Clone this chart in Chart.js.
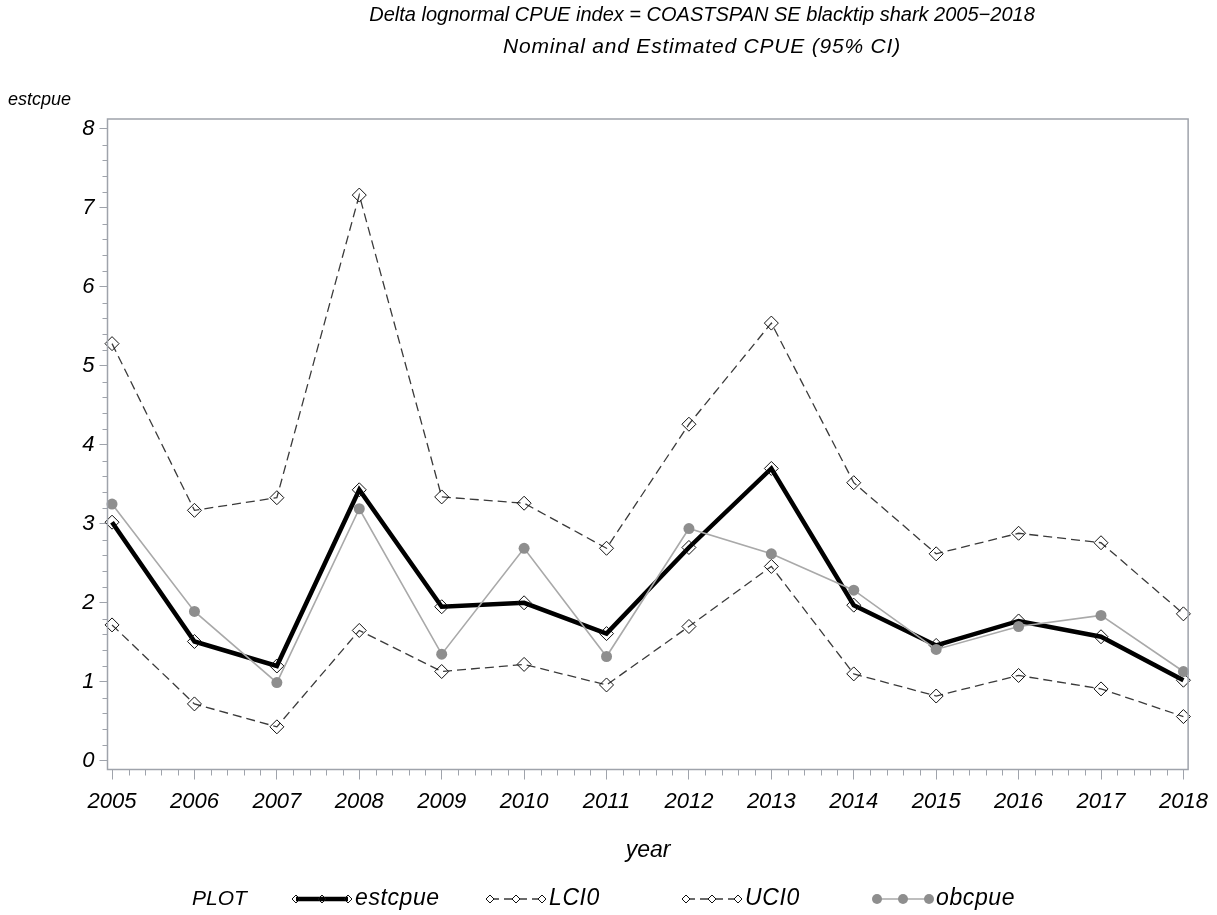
<!DOCTYPE html>
<html>
<head>
<meta charset="utf-8">
<title>Delta lognormal CPUE index</title>
<script src="https://cdn.jsdelivr.net/npm/chart.js@4/dist/chart.umd.min.js"></script>
<style>
  html, body { margin: 0; padding: 0; background: #ffffff; }
  #wrap { width: 1217px; height: 915px; position: relative; }
</style>
</head>
<body>
<div id="wrap"><canvas id="c" width="1217" height="915"></canvas></div>
<script>
// ---- data ----
const years   = [2005, 2006, 2007, 2008, 2009, 2010, 2011, 2012, 2013, 2014, 2015, 2016, 2017, 2018];
const estcpue = [3.02, 1.51, 1.20, 3.43, 1.95, 2.00, 1.61, 2.70, 3.70, 1.97, 1.46, 1.77, 1.57, 1.02];
const lci0    = [1.72, 0.72, 0.43, 1.65, 1.13, 1.22, 0.96, 1.70, 2.46, 1.10, 0.82, 1.08, 0.91, 0.56];
const uci0    = [5.28, 3.17, 3.33, 7.16, 3.34, 3.26, 2.69, 4.26, 5.54, 3.52, 2.62, 2.88, 2.76, 1.86];
const obcpue  = [3.25, 1.89, 0.99, 3.19, 1.35, 2.69, 1.32, 2.94, 2.62, 2.16, 1.41, 1.70, 1.84, 1.13];
const yTicks  = [0, 1, 2, 3, 4, 5, 6, 7, 8];
const seriesNames = ['estcpue', 'LCI0', 'UCI0', 'obcpue'];

const titleLines = [
  'Delta lognormal CPUE index = COASTSPAN SE blacktip shark 2005\u22122018',
  'Nominal and Estimated CPUE (95% CI)'
];
const xAxisTitle = 'year';
const yAxisTitle = 'estcpue';
const legendHeading = 'PLOT';

// ---- styling ----
const FONT = '"Liberation Sans", Arial, Helvetica, sans-serif';
const AXIS_GREY = '#9fa3ab';

const pts = vals => years.map((yr, i) => ({ x: yr, y: vals[i] }));

// frame around the plot area plus the minor tick marks
const framePlugin = {
  id: 'frame',
  afterDraw(chart) {
    const { ctx, chartArea: a, scales } = chart;
    ctx.save();
    ctx.strokeStyle = AXIS_GREY;
    ctx.lineWidth = 1.5;
    ctx.strokeRect(a.left, a.top, a.right - a.left, a.bottom - a.top);
    ctx.lineWidth = 1;
    ctx.beginPath();
    // minor y ticks every 0.2
    for (let k = 0; k <= 40; k++) {
      if (k % 5 === 0) continue;
      const py = Math.round(scales.y.getPixelForValue(k / 5)) + 0.5;
      ctx.moveTo(a.left - 5, py);
      ctx.lineTo(a.left, py);
    }
    // minor x ticks every 0.2 year
    for (let k = 0; k <= (years.length - 1) * 5; k++) {
      if (k % 5 === 0) continue;
      const px = Math.round(scales.x.getPixelForValue(years[0] + k / 5)) + 0.5;
      ctx.moveTo(px, a.bottom);
      ctx.lineTo(px, a.bottom + 6);
    }
    ctx.stroke();
    ctx.restore();
  }
};

function diamond(ctx, x, y, r) {
  ctx.beginPath();
  ctx.moveTo(x, y - r);
  ctx.lineTo(x + r, y);
  ctx.lineTo(x, y + r);
  ctx.lineTo(x - r, y);
  ctx.closePath();
  ctx.stroke();
}

// titles, axis labels and the legend row
const textPlugin = {
  id: 'texts',
  afterDraw(chart) {
    const { ctx } = chart;
    ctx.save();
    ctx.fillStyle = '#000';
    ctx.textBaseline = 'middle';

    ctx.textAlign = 'center';
    ctx.font = 'italic 20px ' + FONT;
    ctx.letterSpacing = '0px';
    ctx.fillText(titleLines[0], 702, 15);
    ctx.font = 'italic 21px ' + FONT;
    ctx.letterSpacing = '0.8px';
    ctx.fillText(titleLines[1], 702, 47);
    ctx.letterSpacing = '0px';

    ctx.font = 'italic 18px ' + FONT;
    ctx.textAlign = 'left';
    ctx.fillText(yAxisTitle, 8, 100);

    ctx.font = 'italic 23px ' + FONT;
    ctx.textAlign = 'center';
    ctx.fillText(xAxisTitle, 648, 851);

    // legend
    const ly = 899;
    ctx.textAlign = 'left';
    ctx.font = 'italic 21px ' + FONT;
    ctx.fillText(legendHeading, 192, ly);
    ctx.font = 'italic 23px ' + FONT;
    const symX = [296, 490, 686, 877];
    chart.data.datasets.forEach((ds, i) => {
      const x0 = symX[i], x1 = x0 + 52;
      ctx.save();
      ctx.strokeStyle = ds.borderColor;
      ctx.lineWidth = ds.borderWidth;
      ctx.setLineDash(ds.borderDash || []);
      ctx.beginPath();
      ctx.moveTo(x0, ly);
      ctx.lineTo(x1, ly);
      ctx.stroke();
      ctx.setLineDash([]);
      [x0, (x0 + x1) / 2, x1].forEach(mx => {
        if (ds.pointStyle === 'circle') {
          ctx.fillStyle = ds.pointBackgroundColor;
          ctx.beginPath();
          ctx.arc(mx, ly, 5, 0, Math.PI * 2);
          ctx.fill();
        } else {
          ctx.strokeStyle = ds.pointBorderColor;
          ctx.lineWidth = 1;
          if (ds.borderDash) {
            ctx.fillStyle = '#fff';
            ctx.beginPath();
            ctx.moveTo(mx, ly - 4); ctx.lineTo(mx + 4, ly); ctx.lineTo(mx, ly + 4); ctx.lineTo(mx - 4, ly);
            ctx.closePath(); ctx.fill();
          }
          diamond(ctx, mx, ly, 4);
        }
      });
      ctx.restore();
      ctx.letterSpacing = '0.6px';
      ctx.fillText(ds.label, x1 + 7, ly);
      ctx.letterSpacing = '0px';
    });
    ctx.restore();
  }
};

const tickFont = { family: FONT, size: 22, style: 'italic' };

new Chart(document.getElementById('c'), {
  type: 'line',
  data: {
    datasets: [
      {
        label: seriesNames[0], data: pts(estcpue), order: 1,
        borderColor: '#000000', borderWidth: 4.5,
        pointStyle: 'rectRot', pointRadius: 7, pointBorderWidth: 1,
        pointBorderColor: '#111111', pointBackgroundColor: 'rgba(255,255,255,0)',
        clip: false
      },
      {
        label: seriesNames[1], data: pts(lci0), order: 2,
        borderColor: '#3a3a3a', borderWidth: 1.3, borderDash: [9, 5],
        pointStyle: 'rectRot', pointRadius: 7, pointBorderWidth: 1,
        pointBorderColor: '#111111', pointBackgroundColor: 'rgba(255,255,255,0)',
        clip: false
      },
      {
        label: seriesNames[2], data: pts(uci0), order: 2,
        borderColor: '#3a3a3a', borderWidth: 1.3, borderDash: [9, 5],
        pointStyle: 'rectRot', pointRadius: 7, pointBorderWidth: 1,
        pointBorderColor: '#111111', pointBackgroundColor: 'rgba(255,255,255,0)',
        clip: false
      },
      {
        label: seriesNames[3], data: pts(obcpue), order: 0,
        borderColor: '#a9a9a9', borderWidth: 1.6,
        pointStyle: 'circle', pointRadius: 5.5, pointBorderWidth: 0,
        pointBackgroundColor: '#8e8e8e', pointBorderColor: '#8e8e8e',
        clip: false
      }
    ]
  },
  options: {
    responsive: false,
    devicePixelRatio: 1,
    animation: false,
    events: [],
    layout: { padding: { top: 119, right: 25, left: 0, bottom: 0 } },
    plugins: { legend: { display: false }, title: { display: false }, tooltip: { enabled: false } },
    elements: { line: { tension: 0 } },
    scales: {
      x: {
        type: 'linear', position: 'bottom',
        min: 2004.945, max: 2018.057,
        afterBuildTicks: s => { s.ticks = years.map(v => ({ value: v })); },
        afterFit: s => { s.height = 145.5; },
        border: { display: false },
        grid: { drawOnChartArea: false, drawTicks: true, tickLength: 10, tickColor: AXIS_GREY, tickWidth: 1 },
        ticks: { color: '#000', font: tickFont, padding: 9, maxRotation: 0, autoSkip: false,
                 callback: v => String(v) }
      },
      y: {
        type: 'linear', position: 'left',
        min: -0.11, max: 8.123,
        afterBuildTicks: s => { s.ticks = yTicks.map(v => ({ value: v })); },
        afterFit: s => { s.width = 107.5; },
        border: { display: false },
        grid: { drawOnChartArea: false, drawTicks: true, tickLength: 8, tickColor: AXIS_GREY, tickWidth: 1 },
        ticks: { color: '#000', font: tickFont, padding: 5, callback: v => String(v) }
      }
    }
  },
  plugins: [framePlugin, textPlugin]
});
</script>
</body>
</html>
